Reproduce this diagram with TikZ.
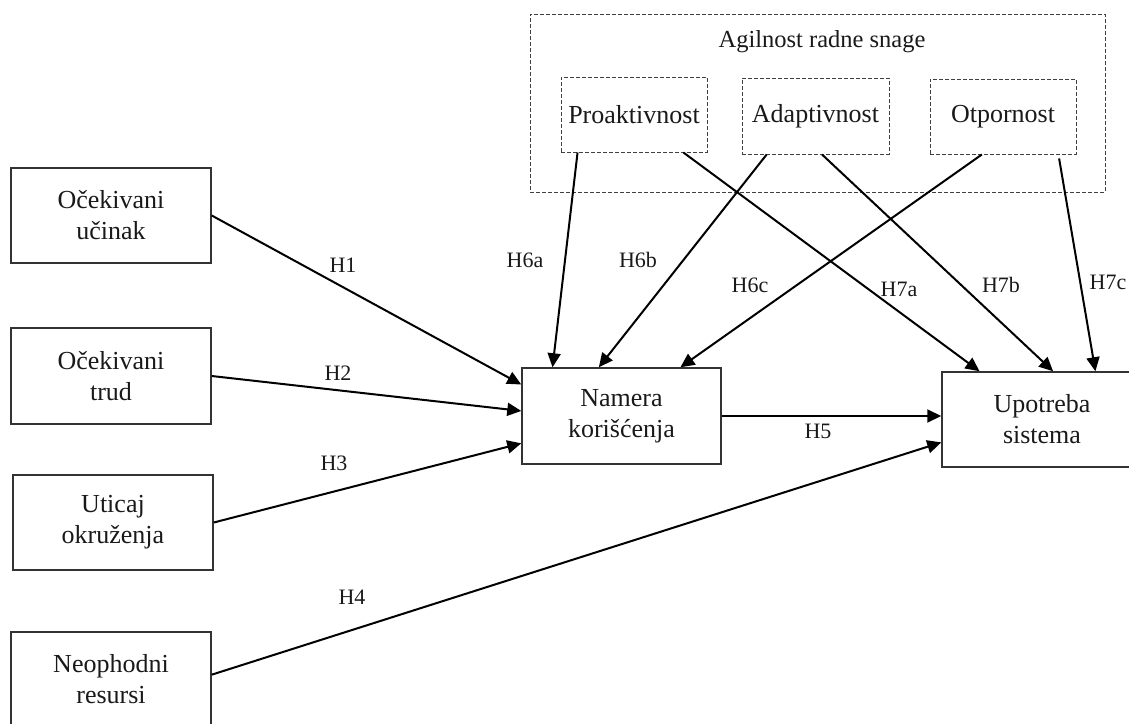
\documentclass[tikz,border=0pt]{standalone}
\usepackage{fontspec}
\setmainfont{Liberation Serif}
\usetikzlibrary{arrows.meta,calc}
\tikzset{
  box/.style={draw=black!80, line width=1.5pt, rectangle, minimum width=200pt, minimum height=95pt, inner sep=0pt, align=center, font=\fontsize{26}{31}\selectfont, text=black!90},
  dbox/.style={draw=black!75, line width=1pt, dash pattern=on 4pt off 2pt, rectangle, inner sep=0pt, minimum width=146pt, minimum height=75pt, font=\fontsize{26}{31}\selectfont, text=black!90},
  conn/.style={line width=2pt, -{Triangle[length=14pt,width=13pt]}},
  hlab/.style={font=\fontsize{22}{26}\selectfont, text=black!90, inner sep=0pt}
}
\begin{document}
\begin{tikzpicture}[x=1pt,y=-1pt]
\useasboundingbox (0,0) rectangle (1129,723);
\clip (0,0) rectangle (1129,723);
% outer dashed group
\node[draw=black!75, line width=1pt, dash pattern=on 4pt off 2pt, rectangle, inner sep=0pt, minimum width=575pt, minimum height=178pt] (grp) at (817.5,103) {};
\node[font=\fontsize{24.5}{29}\selectfont, text=black!90] (glab) at (822,42) {Agilnost radne snage};
\node[dbox] (pr) at (634,114.5) {Proaktivnost};
\node[dbox, minimum width=147pt, minimum height=76pt] (ad) at (815.5,116) {Adaptivnost};
\node[dbox] (ot) at (1003,116.5) {Otpornost};
% left boxes
\node[box] (uc) at (111,215.5) {Očekivani\\učinak};
\node[box, minimum height=96pt] (tr) at (111,376) {Očekivani\\trud};
\node[box] (ut) at (113,522.5) {Uticaj\\okruženja};
\node[box] (ne) at (111,679.5) {Neophodni\\resursi};
% central boxes
\node[box, minimum width=199pt, minimum height=96pt] (nk) at (621.5,416) {Namera\\korišćenja};
\node[box] (us) at (1042,419.5) {Upotreba\\sistema};
% connectors from left
\draw[conn] (uc.east) -- ($(nk.north west)!0.177!(nk.south west)$);
\draw[conn] (tr.east) -- ($(nk.north west)!0.448!(nk.south west)$);
\draw[conn] (ut.east) -- ($(nk.north west)!0.78!(nk.south west)$);
\draw[conn] ($(ne.north east)!0.45!(ne.south east)$) -- ($(us.north west)!0.737!(us.south west)$);
\draw[conn] (nk.east) -- (nk.east -| us.west);
% connectors from agility
\draw[conn] ($(pr.south west)!0.116!(pr.south east)$) -- ($(nk.north west)!0.156!(nk.north east)$);
\draw[conn] ($(pr.south west)!0.836!(pr.south east)$) -- ($(us.north west)!0.19!(us.north east)$);
\draw[conn] ($(ad.south west)!0.17!(ad.south east)$) -- ($(nk.north west)!0.387!(nk.north east)$);
\draw[conn] ($(ad.south west)!0.544!(ad.south east)$) -- ($(us.north west)!0.555!(us.north east)$);
\draw[conn] ($(ot.south west)!0.356!(ot.south east)$) -- ($(nk.north west)!0.794!(nk.north east)$);
\draw[conn, shorten <=4pt] ($(ot.south west)!0.877!(ot.south east)$) -- ($(us.north west)!0.765!(us.north east)$);
% labels
\node[hlab] (h1) at (343,265) {H1};
\node[hlab] (h2) at (338,373) {H2};
\node[hlab] (h3) at (334,463) {H3};
\node[hlab] (h4) at (352,597) {H4};
\node[hlab] (h5) at (818,431) {H5};
\node[hlab] (h6a) at (525,260) {H6a};
\node[hlab] (h6b) at (638,260) {H6b};
\node[hlab] (h6c) at (750,285) {H6c};
\node[hlab] (h7a) at (899,289) {H7a};
\node[hlab] (h7b) at (1001,285) {H7b};
\node[hlab] (h7c) at (1108,282) {H7c};
\end{tikzpicture}
\end{document}
